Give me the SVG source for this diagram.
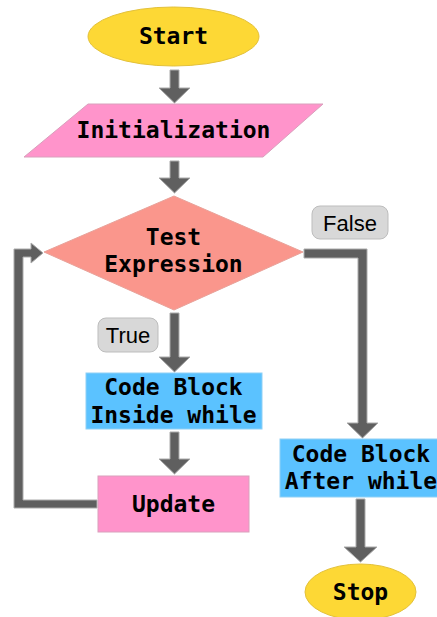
<svg xmlns="http://www.w3.org/2000/svg" width="437" height="617" viewBox="0 0 437 617">
  <style>
    .term { fill: #FDD835; stroke: #E3C13A; stroke-width: 1; }
    .io { fill: #FF94CB; stroke: #D9A0BC; stroke-width: 1; }
    .dec { fill: #FA968C; stroke: #E8A29A; stroke-width: 1; }
    .proc { fill: #5BC2FF; stroke: #8FD0F5; stroke-width: 1; }
    .upd { fill: #FF94CB; stroke: #D9A0BC; stroke-width: 1; }
    .arrow { fill: #5F5F5F; stroke: #ABABAB; stroke-width: 1; stroke-linejoin: miter; }
    .lbl { fill: #D8D8D8; stroke: #BDBDBD; stroke-width: 1; }
    .t { font-family: "DejaVu Sans Mono", "Liberation Mono", monospace; font-weight: bold; font-size: 23px; fill: #000; text-anchor: middle; }
    .lt { font-family: "Liberation Sans", Arial, sans-serif; font-size: 22px; fill: #000; text-anchor: middle; }
  </style>

  <!-- connectors -->
  <g id="connectors">
    <polygon class="arrow" points="170,70 179,70 179,88 190,88 174.5,103 159,88 170,88"/>
    <polygon class="arrow" points="170,161 179,161 179,178 190,178 174.5,193 159,178 170,178"/>
    <polygon class="arrow" points="170,313 179,313 179,357 190,357 174.5,372 159,357 170,357"/>
    <polygon class="arrow" points="170,432 179,432 179,459 190,459 174.5,474 159,459 170,459"/>
    <polygon class="arrow" points="304,249 367,249 367,423 378,423 362.5,438 347,423 358,423 358,258 304,258"/>
    <polygon class="arrow" points="356,499 365,499 365,547 377,547 360.5,562 344,547 356,547"/>
    <polygon class="arrow" points="97,500 97,508 14,508 14,249 31,249 31,243 43,253 31,263 31,257 23,257 23,500"/>
    <g id="label-false">
      <rect class="lbl" x="312" y="206" width="76" height="33" rx="8"/>
      <text class="lt" x="350" y="231">False</text>
    </g>
    <g id="label-true">
      <rect class="lbl" x="98" y="318" width="60" height="34" rx="8"/>
      <text class="lt" x="128" y="343">True</text>
    </g>
  </g>

  <g id="start">
    <ellipse class="term" cx="173.5" cy="36.5" rx="85.5" ry="29.5"/>
    <text class="t" x="173.5" y="44">Start</text>
  </g>

  <g id="init">
    <polygon class="io" points="88,104 323,104 263,157 24,157"/>
    <text class="t" x="173.5" y="138">Initialization</text>
  </g>

  <g id="test">
    <polygon class="dec" points="174,196 303,252 174,310 44,252"/>
    <text class="t" x="173.5" y="245">Test</text>
    <text class="t" x="173.5" y="272">Expression</text>
  </g>

  <g id="body">
    <rect class="proc" x="86" y="373" width="176" height="56"/>
    <text class="t" x="173.5" y="395">Code Block</text>
    <text class="t" x="173.5" y="423">Inside while</text>
  </g>

  <g id="update">
    <rect class="upd" x="98" y="476" width="151" height="56"/>
    <text class="t" x="173.5" y="512">Update</text>
  </g>

  <g id="after">
    <rect class="proc" x="280" y="439" width="164" height="58"/>
    <text class="t" x="361" y="462">Code Block</text>
    <text class="t" x="361" y="489">After while</text>
  </g>

  <g id="stop">
    <ellipse class="term" cx="360.5" cy="592" rx="55.5" ry="28"/>
    <text class="t" x="360.5" y="600">Stop</text>
  </g>
</svg>
